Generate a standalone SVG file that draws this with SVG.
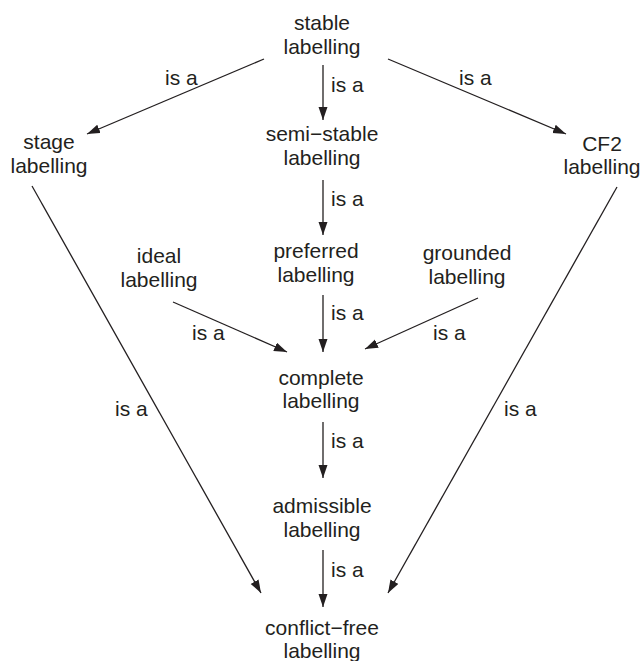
<svg xmlns="http://www.w3.org/2000/svg" width="641" height="661" viewBox="0 0 641 661">
<defs>
<style>
text{font-family:"Liberation Sans",Arial,sans-serif;font-size:21px;fill:#231f20}
.n text{text-anchor:middle}
.e line{stroke:#231f20;stroke-width:1.3;fill:none;marker-end:url(#ah)}
.lbl{text-anchor:start}
</style>
<marker id="ah" markerUnits="userSpaceOnUse" markerWidth="14" markerHeight="10" refX="13" refY="4.5" orient="auto">
<path d="M0,0 L13,4.5 L0,9 z" fill="#231f20"/>
</marker>
</defs>
<rect width="641" height="661" fill="#fff"/>
<g class="n">
<g id="stable"><text x="322" y="30">stable</text><text x="322" y="54">labelling</text></g>
<g id="stage"><text x="49" y="149">stage</text><text x="49" y="173">labelling</text></g>
<g id="semistable"><text x="322" y="141">semi−stable</text><text x="322" y="165">labelling</text></g>
<g id="cf2"><text x="602" y="151">CF2</text><text x="602" y="174">labelling</text></g>
<g id="ideal"><text x="159" y="263">ideal</text><text x="159" y="287">labelling</text></g>
<g id="preferred"><text x="316" y="258">preferred</text><text x="316" y="282">labelling</text></g>
<g id="grounded"><text x="467" y="260">grounded</text><text x="467" y="284">labelling</text></g>
<g id="complete"><text x="321" y="385">complete</text><text x="321" y="408">labelling</text></g>
<g id="admissible"><text x="322" y="513">admissible</text><text x="322" y="537">labelling</text></g>
<g id="conflictfree"><text x="322" y="635">conflict−free</text><text x="322" y="658">labelling</text></g>
</g>
<g class="e" id="connectors">
<line x1="264" y1="59" x2="87" y2="134"/>
<line x1="323" y1="65" x2="323" y2="120"/>
<line x1="388" y1="59" x2="566" y2="134"/>
<line x1="323" y1="180" x2="323" y2="235"/>
<line x1="173" y1="302" x2="287" y2="352"/>
<line x1="323" y1="295" x2="323" y2="352"/>
<line x1="478" y1="298" x2="365" y2="349"/>
<line x1="323" y1="422" x2="323" y2="478"/>
<line x1="323" y1="550" x2="323" y2="607"/>
<line x1="32" y1="186" x2="261" y2="593"/>
<line x1="617" y1="187" x2="388" y2="593"/>
<text class="lbl" x="165" y="85">is a</text>
<text class="lbl" x="331" y="92">is a</text>
<text class="lbl" x="459" y="85">is a</text>
<text class="lbl" x="331" y="206">is a</text>
<text class="lbl" x="192" y="340">is a</text>
<text class="lbl" x="331" y="320">is a</text>
<text class="lbl" x="433" y="340">is a</text>
<text class="lbl" x="331" y="448">is a</text>
<text class="lbl" x="331" y="577">is a</text>
<text class="lbl" x="115" y="416">is a</text>
<text class="lbl" x="504" y="416">is a</text>
</g>
</svg>
